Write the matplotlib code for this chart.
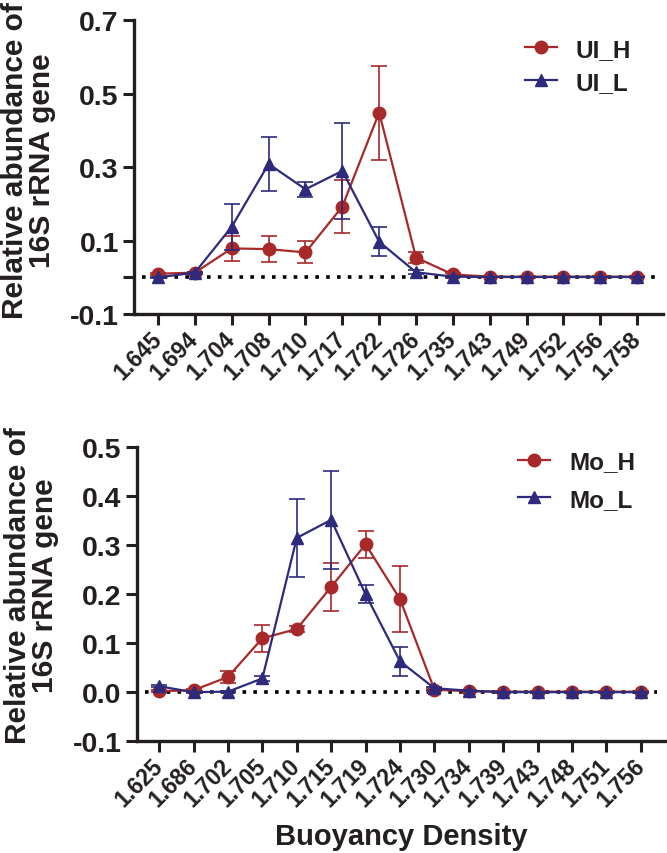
import numpy as np
import matplotlib
matplotlib.use('Agg')
import matplotlib.pyplot as plt
from matplotlib.lines import Line2D

plt.rcParams['font.family'] = ['Liberation Sans', 'DejaVu Sans']
plt.rcParams['font.weight'] = 'bold'

# top panel data
top_labels = ['1.645', '1.694', '1.704', '1.708', '1.710', '1.717', '1.722',
              '1.726', '1.735', '1.743', '1.749', '1.752', '1.756', '1.758']
ui_h = [0.010, 0.013, 0.079, 0.077, 0.068, 0.193, 0.449, 0.054, 0.008, 0.002, 0.002, 0.002, 0.002, 0.002]
ui_h_err = [0.003, 0.003, 0.034, 0.036, 0.030, 0.073, 0.128, 0.016, 0.003, 0.001, 0.001, 0.001, 0.001, 0.001]
ui_l = [0.000, 0.013, 0.138, 0.309, 0.240, 0.290, 0.097, 0.014, 0.002, 0.001, 0.001, 0.001, 0.001, 0.001]
ui_l_err = [0.002, 0.003, 0.063, 0.073, 0.020, 0.130, 0.040, 0.005, 0.001, 0.001, 0.001, 0.001, 0.001, 0.001]

# bottom panel data
bot_labels = ['1.625', '1.686', '1.702', '1.705', '1.710', '1.715', '1.719', '1.724',
              '1.730', '1.734', '1.739', '1.743', '1.748', '1.751', '1.756']
mo_h = [0.002, 0.004, 0.031, 0.110, 0.129, 0.215, 0.302, 0.190, 0.005, 0.002, 0.001, 0.001, 0.001, 0.001, 0.001]
mo_h_err = [0.002, 0.002, 0.012, 0.028, 0.007, 0.049, 0.028, 0.068, 0.003, 0.001, 0.001, 0.001, 0.001, 0.001, 0.001]
mo_l = [0.012, 0.000, 0.001, 0.028, 0.315, 0.352, 0.200, 0.063, 0.008, 0.003, 0.000, 0.000, 0.000, 0.000, 0.000]
mo_l_err = [0.002, 0.001, 0.001, 0.006, 0.080, 0.100, 0.018, 0.029, 0.003, 0.001, 0.001, 0.001, 0.001, 0.001, 0.001]

red = '#A8292A'
blue = '#2E2A7C'
txt = '#231F20'

fig = plt.figure(figsize=(6.67, 8.54), dpi=100)


def panel(rect, labels, h, herr, l, lerr, names, yticks, ylim, leg_anchor, leg_sp, ylab_y):
    ax = fig.add_axes(rect)
    x = np.arange(len(labels))
    ax.errorbar(x, h, yerr=herr, color=red, marker='o', ms=9, lw=1.6,
                elinewidth=1.2, capsize=5.5, capthick=1.2, zorder=3)
    ax.errorbar(x, l, yerr=lerr, color=blue, marker='^', ms=9, lw=1.6,
                elinewidth=1.2, capsize=5.5, capthick=1.2, zorder=4)
    ax.axhline(0, xmin=0.015, xmax=0.985, color='black', ls=(0, (1, 2.0)), lw=2.6, zorder=2)
    ax.set_xlim(-0.65, len(labels) - 0.3)
    ax.set_ylim(*ylim)
    ax.set_yticks(yticks)
    ax.set_xticks(x)
    ax.set_xticklabels(labels, rotation=45, ha='right', va='center',
                       rotation_mode='anchor', fontsize=16.5, fontweight='bold', color=txt)
    for s in ['top', 'right']:
        ax.spines[s].set_visible(False)
    for s in ['left', 'bottom']:
        ax.spines[s].set_linewidth(2.4)
        ax.spines[s].set_color(txt)
    ax.tick_params(axis='both', direction='out', length=8, width=2.2, color=txt)
    ax.tick_params(axis='y', labelsize=20.5, labelcolor=txt, pad=3)
    ax.tick_params(axis='x', pad=7)
    ax.set_ylabel('Relative abundance of\n16S rRNA gene', fontsize=21.5,
                  fontweight='bold', color=txt, linespacing=0.95)
    ax.yaxis.set_label_coords(-0.148, ylab_y)
    handles = [Line2D([], [], color=red, marker='o', ms=9, lw=1.6),
               Line2D([], [], color=blue, marker='^', ms=9, lw=1.6)]
    leg = ax.legend(handles, names, loc='upper left', frameon=False, fontsize=17.5,
                    handlelength=1.3, handletextpad=0.8, labelspacing=leg_sp,
                    borderpad=0, borderaxespad=0, bbox_to_anchor=leg_anchor)
    for t in leg.get_texts():
        t.set_color(txt)
    return ax


ax1 = panel([0.201, 0.631, 0.793, 0.344], top_labels, ui_h, ui_h_err, ui_l, ui_l_err,
            ['UI_H', 'UI_L'], [-0.1, 0.0, 0.1, 0.3, 0.5, 0.7], (-0.1, 0.7),
            (0.739, 0.94), 0.4, 0.525)
ax1.set_yticklabels(['-0.1', '', '0.1', '0.3', '0.5', '0.7'])

ax2 = panel([0.205, 0.131, 0.792, 0.344], bot_labels, mo_h, mo_h_err, mo_l, mo_l_err,
            ['Mo_H', 'Mo_L'], [-0.1, 0.0, 0.1, 0.2, 0.3, 0.4, 0.5], (-0.1, 0.5),
            (0.722, 0.99), 0.6, 0.534)
ax2.set_yticklabels(['-0.1', '0.0', '0.1', '0.2', '0.3', '0.4', '0.5'])
ax2.set_xlabel('Buoyancy Density', fontsize=21, fontweight='bold', color=txt, labelpad=8)

fig.savefig('out.png', dpi=100)
